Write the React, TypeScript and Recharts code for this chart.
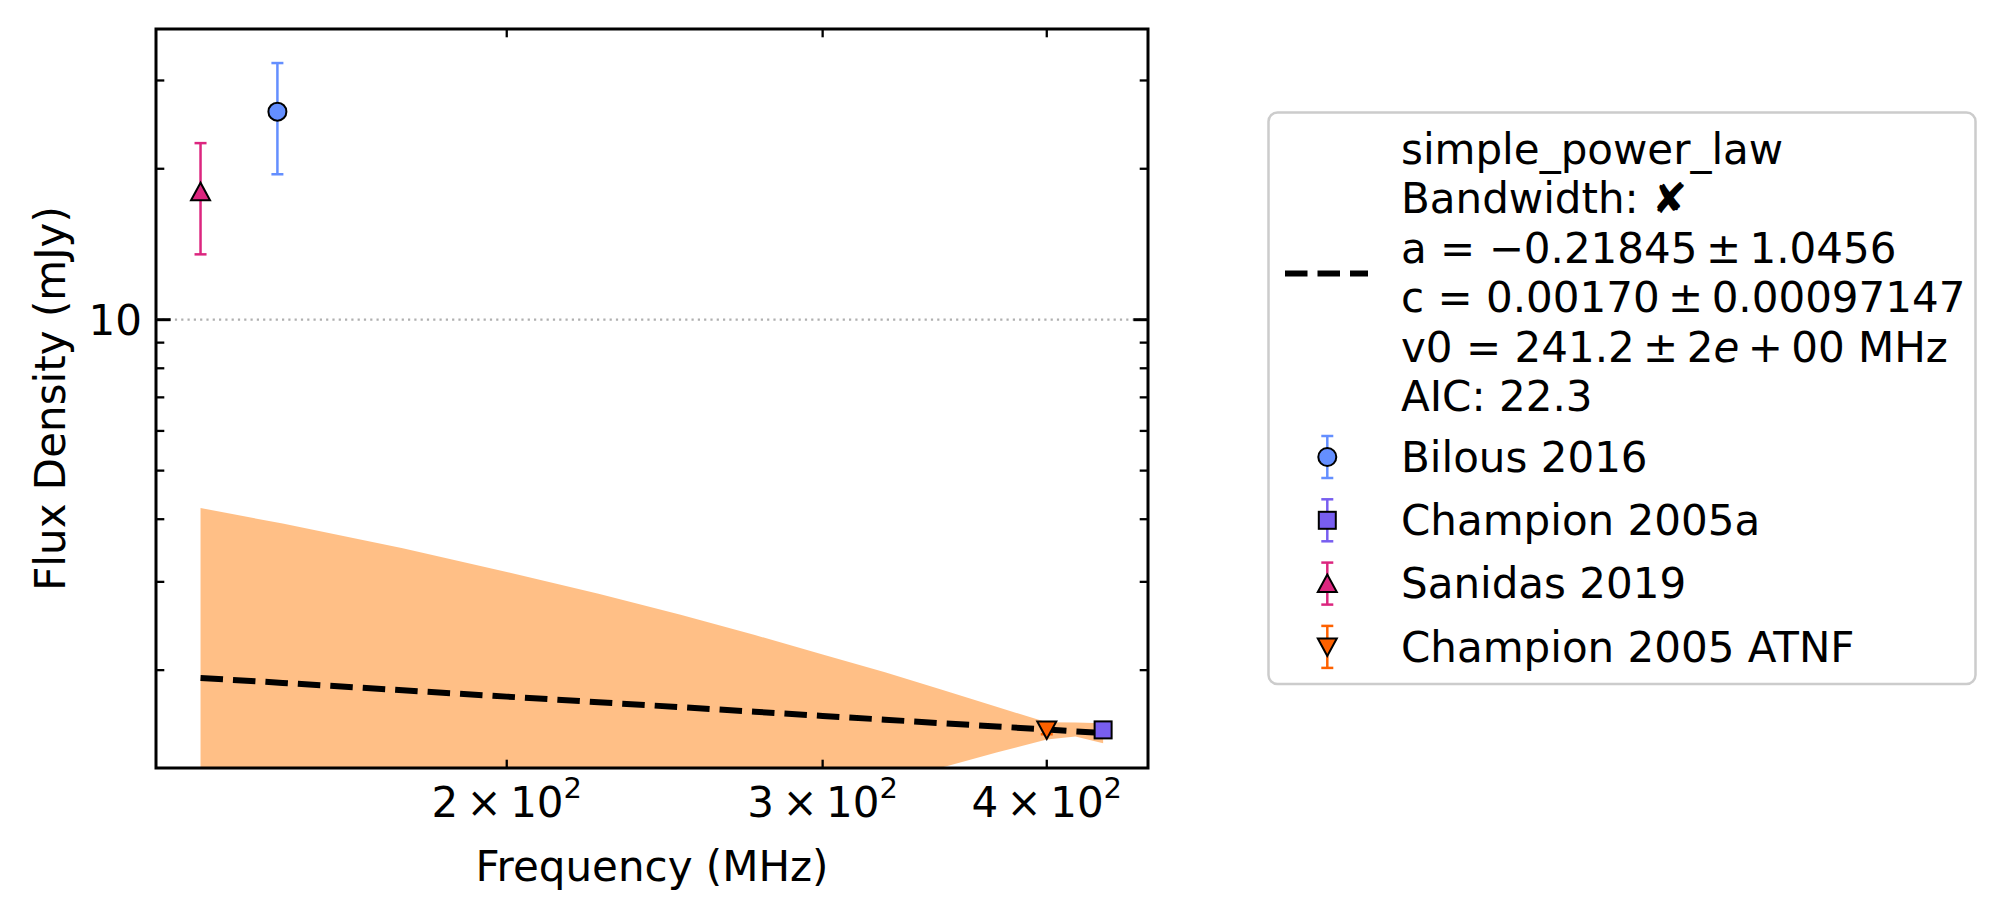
import React from 'react';
import {
  ComposedChart,
  XAxis,
  YAxis,
  Area,
  Line,
  Scatter,
  ErrorBar,
  ReferenceLine,
  ReferenceArea,
} from 'recharts';

const W = 2005;
const H = 914;
// plot box edges in page pixels
const PLOT = { left: 156, top: 29, right: 1148, bottom: 768 };
const AXIS_X_HEIGHT = 40;
const AXIS_Y_WIDTH = 40;
const FONT = '"DejaVu Sans", "Liberation Sans", sans-serif';
const FS = 42;

const X_DOMAIN: [number, number] = [127.5, 455.5];
const Y_DOMAIN: [number, number] = [1.276, 38.0];
const X_TICKS = [200, 300, 400];
const X_TICK_LABELS = ['2', '3', '4'];
const Y_TICKS = [2, 3, 4, 5, 6, 7, 8, 9, 10, 20, 30];
const Y_MAJOR = 10;

// simple power law fit and its uncertainty band (mJy)
const fitFreqs = [135, 150, 175, 200, 225, 250, 275, 300, 325, 350, 375, 400, 415, 430];
const fitFlux = [1.93, 1.886, 1.823, 1.771, 1.726, 1.687, 1.652, 1.621, 1.593, 1.567, 1.544, 1.523, 1.51, 1.499];
const bandUpper = [4.21, 3.92, 3.5, 3.14, 2.84, 2.58, 2.35, 2.15, 1.98, 1.825, 1.69, 1.575, 1.572, 1.568];
const bandLower = [0.1, 0.1, 0.17, 0.45, 0.62, 0.78, 0.93, 1.07, 1.18, 1.28, 1.37, 1.455, 1.475, 1.43];

// measurements
const seriesNames = ['Bilous 2016', 'Champion 2005a', 'Sanidas 2019', 'Champion 2005 ATNF'];
const seriesColors = ['#648FFF', '#785EF0', '#DC267F', '#FE6100'];
const seriesMarkers = ['circle', 'square', 'triangleUp', 'triangleDown'];
const seriesFreq = [149, 430, 135, 400];
const seriesFlux = [26, 1.52, 18, 1.52];
const seriesErr = [6.5, 0.03, 4.5, 0.03];

const fitLabelLines = [
  'simple_power_law',
  'Bandwidth: \u2718',
  'a = \u22120.21845\u2009\u00B1\u20091.0456',
  'c = 0.00170\u2009\u00B1\u20090.00097147',
  'v0 = 241.2\u2009\u00B1\u20092',
  'AIC: 22.3',
];

const fitData = fitFreqs.map((f, i) => ({
  freq: f,
  fit: fitFlux[i],
  band: [bandLower[i], bandUpper[i]],
}));

const pointData = seriesNames.map((name, i) => [
  { freq: seriesFreq[i], flux: seriesFlux[i], err: seriesErr[i], name },
]);

type MarkerProps = { kind: string; cx: number; cy: number; color: string };

function Marker({ kind, cx, cy, color }: MarkerProps) {
  const common = { fill: color, stroke: '#000', strokeWidth: 2 };
  if (kind === 'circle') return <circle cx={cx} cy={cy} r={9} {...common} />;
  if (kind === 'square') return <rect x={cx - 8.5} y={cy - 8.5} width={17} height={17} {...common} />;
  if (kind === 'triangleUp')
    return <polygon points={`${cx},${cy - 9} ${cx - 9.5},${cy + 8.5} ${cx + 9.5},${cy + 8.5}`} {...common} />;
  return <polygon points={`${cx},${cy + 9} ${cx - 9.5},${cy - 8.5} ${cx + 9.5},${cy - 8.5}`} {...common} />;
}

function renderXTick(props: any) {
  const { payload } = props;
  const x = payload?.coordinate ?? props.x;
  const idx = X_TICKS.indexOf(payload.value);
  const len = 8.3;
  return (
    <g key={`xt-${payload.value}`}>
      <line x1={x} x2={x} y1={PLOT.bottom} y2={PLOT.bottom - len} stroke="#000" strokeWidth={2.3} />
      <line x1={x} x2={x} y1={PLOT.top} y2={PLOT.top + len} stroke="#000" strokeWidth={2.3} />
      <text x={x} y={PLOT.bottom + 48.7} textAnchor="middle" fontFamily={FONT} fontSize={FS} fill="#000">
        <tspan>{`${X_TICK_LABELS[idx]}\u2009\u00D7\u200910`}</tspan>
        <tspan dy={-19} fontSize={29}>2</tspan>
      </text>
    </g>
  );
}

function renderYTick(props: any) {
  const { payload } = props;
  const y = payload?.coordinate ?? props.y;
  const major = payload.value === Y_MAJOR;
  const len = major ? 14.6 : 8.3;
  const sw = major ? 3 : 2.3;
  return (
    <g key={`yt-${payload.value}`}>
      <line x1={PLOT.left} x2={PLOT.left + len} y1={y} y2={y} stroke="#000" strokeWidth={sw} />
      <line x1={PLOT.right} x2={PLOT.right - len} y1={y} y2={y} stroke="#000" strokeWidth={sw} />
      {major && (
        <text x={PLOT.left - 14} y={y + 15.3} textAnchor="end" fontFamily={FONT} fontSize={FS} fill="#000">
          {String(payload.value)}
        </text>
      )}
    </g>
  );
}

function LegendBox() {
  const textX = 1401;
  const fitBase = 163.5;
  const fitStep = 49.5;
  const itemCenter = 457;
  const itemStep = 63.3;
  const handleX = 1327.3;
  return (
    <svg
      width={W}
      height={H}
      style={{ position: 'absolute', left: 0, top: 0, pointerEvents: 'none' }}
    >
      <rect x={1268.5} y={112.5} width={707} height={571.5} rx={9} ry={9} fill="#fff" fillOpacity={0.8} stroke="#cccccc" strokeWidth={2.5} />
      <line x1={1285} x2={1368} y1={273.6} y2={273.6} stroke="#000" strokeWidth={6} strokeDasharray="22.5 10" />
      {fitLabelLines.map((t, i) => (
        <text key={t} x={textX} y={fitBase + i * fitStep} fontFamily={FONT} fontSize={FS} fill="#000">
          {i === 4 ? (
            <>
              <tspan>{t}</tspan>
              <tspan fontStyle="italic">e</tspan>
              <tspan>{'\u2009+\u200900 MHz'}</tspan>
            </>
          ) : (
            t
          )}
        </text>
      ))}
      {seriesNames.map((name, i) => {
        const cy = itemCenter + i * itemStep;
        const c = seriesColors[i];
        return (
          <g key={name}>
            <line x1={handleX} x2={handleX} y1={cy - 21} y2={cy + 21} stroke={c} strokeWidth={2.5} />
            <line x1={handleX - 6} x2={handleX + 6} y1={cy - 21} y2={cy - 21} stroke={c} strokeWidth={2.5} />
            <line x1={handleX - 6} x2={handleX + 6} y1={cy + 21} y2={cy + 21} stroke={c} strokeWidth={2.5} />
            <Marker kind={seriesMarkers[i]} cx={handleX} cy={cy} color={c} />
            <text x={textX} y={cy + 14.7} fontFamily={FONT} fontSize={FS} fill="#000">
              {name}
            </text>
          </g>
        );
      })}
    </svg>
  );
}

export default function App() {
  return (
    <div style={{ position: 'absolute', left: 0, top: 0, width: W, height: H, background: '#fff' }}>
      <ComposedChart
        width={W}
        height={H}
        margin={{
          top: PLOT.top,
          left: PLOT.left - AXIS_Y_WIDTH,
          right: W - PLOT.right,
          bottom: H - PLOT.bottom - AXIS_X_HEIGHT,
        }}
      >
        <XAxis
          dataKey="freq"
          type="number"
          scale="log"
          domain={X_DOMAIN}
          allowDataOverflow
          ticks={X_TICKS}
          interval={0}
          tick={renderXTick}
          tickLine={false}
          axisLine={false}
          height={AXIS_X_HEIGHT}
        />
        <YAxis
          type="number"
          scale="log"
          domain={Y_DOMAIN}
          allowDataOverflow
          ticks={Y_TICKS}
          interval={0}
          tick={renderYTick}
          tickLine={false}
          axisLine={false}
          width={AXIS_Y_WIDTH}
        />
        <ReferenceLine y={10} stroke="#b0b0b0" strokeWidth={2.2} strokeDasharray="2.2 4.1" />
        <Area
          data={fitData}
          dataKey="band"
          type="linear"
          stroke="none"
          fill="#ff7f0e"
          fillOpacity={0.5}
          isAnimationActive={false}
        />
        <Line
          data={fitData}
          dataKey="fit"
          type="linear"
          stroke="#000"
          strokeWidth={6}
          strokeDasharray="22.5 10"
          dot={false}
          isAnimationActive={false}
        />
        {pointData.map((d, i) => (
          <Scatter
            key={seriesNames[i]}
            name={seriesNames[i]}
            data={d}
            dataKey="flux"
            isAnimationActive={false}
            shape={(p: any) => <Marker kind={seriesMarkers[i]} cx={p.cx} cy={p.cy} color={seriesColors[i]} />}
          >
            <ErrorBar dataKey="err" direction="y" stroke={seriesColors[i]} strokeWidth={2.5} width={6} />
          </Scatter>
        ))}
        <ReferenceArea
          x1={X_DOMAIN[0]}
          x2={X_DOMAIN[1]}
          y1={Y_DOMAIN[0]}
          y2={Y_DOMAIN[1]}
          fill="none"
          stroke="#000"
          strokeWidth={3}
          ifOverflow="visible"
        />
      </ComposedChart>
      <LegendBox />
      <svg width={W} height={H} style={{ position: 'absolute', left: 0, top: 0, pointerEvents: 'none' }}>
        <text
          x={(PLOT.left + PLOT.right) / 2}
          y={881}
          textAnchor="middle"
          fontFamily={FONT}
          fontSize={FS}
          fill="#000"
        >
          Frequency (MHz)
        </text>
        <text
          transform={`translate(64.5, ${(PLOT.top + PLOT.bottom) / 2}) rotate(-90)`}
          textAnchor="middle"
          fontFamily={FONT}
          fontSize={FS}
          fill="#000"
        >
          Flux Density (mJy)
        </text>
      </svg>
    </div>
  );
}
